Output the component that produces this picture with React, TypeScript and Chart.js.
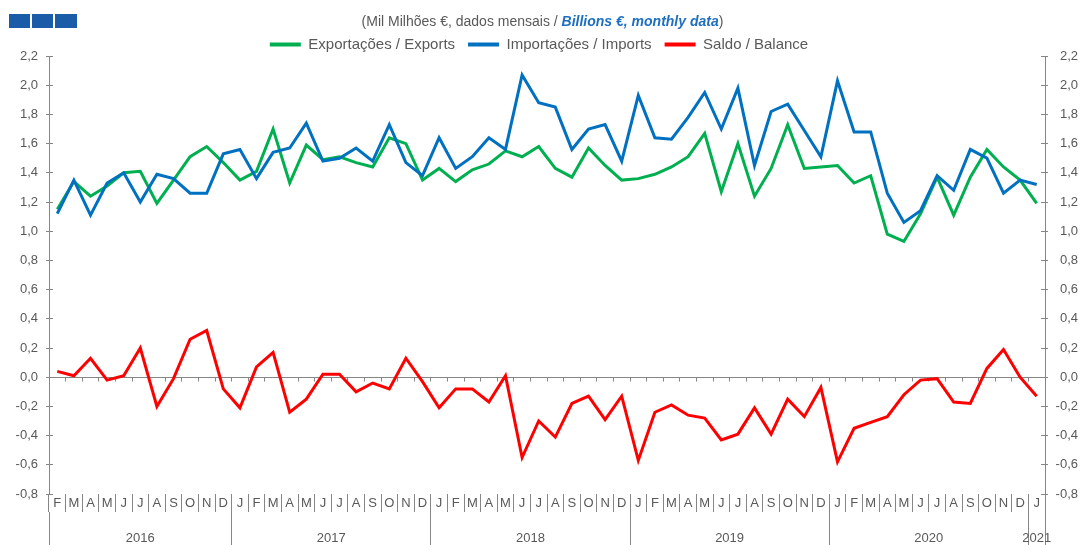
import React, { useEffect, useRef } from 'react';
import { Chart, registerables } from 'chart.js';

Chart.register(...registerables);

// ---------- data ----------
const YEARS = ['2016', '2017', '2018', '2019', '2020', '2021'];
const MONTHS_BY_YEAR: string[][] = [
  ['F', 'M', 'A', 'M', 'J', 'J', 'A', 'S', 'O', 'N', 'D'],
  ['J', 'F', 'M', 'A', 'M', 'J', 'J', 'A', 'S', 'O', 'N', 'D'],
  ['J', 'F', 'M', 'A', 'M', 'J', 'J', 'A', 'S', 'O', 'N', 'D'],
  ['J', 'F', 'M', 'A', 'M', 'J', 'J', 'A', 'S', 'O', 'N', 'D'],
  ['J', 'F', 'M', 'A', 'M', 'J', 'J', 'A', 'S', 'O', 'N', 'D'],
  ['J'],
];

const EXPORTS = [
  1.15, 1.34, 1.24, 1.31, 1.40, 1.41, 1.19, 1.35, 1.51, 1.58,
  1.47, 1.35, 1.41, 1.70, 1.33, 1.59, 1.49, 1.51, 1.47, 1.44,
  1.64, 1.60, 1.35, 1.43, 1.34, 1.42, 1.46, 1.55, 1.51, 1.58,
  1.43, 1.37, 1.57, 1.45, 1.35, 1.36, 1.39, 1.44, 1.51, 1.67,
  1.27, 1.60, 1.24, 1.43, 1.73, 1.43, 1.44, 1.45, 1.33, 1.38,
  0.98, 0.93, 1.12, 1.37, 1.11, 1.37, 1.56, 1.44, 1.35, 1.19,
];

const IMPORTS = [
  1.12, 1.35, 1.11, 1.33, 1.40, 1.20, 1.39, 1.36, 1.26, 1.26,
  1.53, 1.56, 1.36, 1.54, 1.57, 1.74, 1.48, 1.50, 1.57, 1.48,
  1.73, 1.47, 1.38, 1.64, 1.43, 1.51, 1.64, 1.56, 2.07, 1.88,
  1.85, 1.56, 1.70, 1.73, 1.48, 1.93, 1.64, 1.63, 1.78, 1.95,
  1.70, 1.98, 1.45, 1.82, 1.87, 1.69, 1.51, 2.03, 1.68, 1.68,
  1.26, 1.06, 1.14, 1.38, 1.28, 1.56, 1.50, 1.26, 1.35, 1.32,
];

const BALANCE = [
  0.04, 0.01, 0.13, -0.02, 0.01, 0.20, -0.20, -0.01, 0.26, 0.32,
  -0.08, -0.21, 0.07, 0.17, -0.24, -0.15, 0.02, 0.02, -0.10, -0.04,
  -0.08, 0.13, -0.03, -0.21, -0.08, -0.08, -0.17, 0.01, -0.55, -0.30,
  -0.41, -0.18, -0.13, -0.29, -0.13, -0.57, -0.24, -0.19, -0.26, -0.28,
  -0.43, -0.39, -0.21, -0.39, -0.15, -0.27, -0.07, -0.58, -0.35, -0.31,
  -0.27, -0.12, -0.02, -0.01, -0.17, -0.18, 0.06, 0.19, 0.00, -0.13,
];

const SERIES_LABELS = ['Exportações / Exports', 'Importações / Imports', 'Saldo / Balance'];

const Y_MIN = -0.8;
const Y_MAX = 2.2;
const Y_STEP = 0.2;

// ---------- derived (categories / year grouping) ----------
const MONTH_LABELS = MONTHS_BY_YEAR.flat();
const CATEGORIES = MONTHS_BY_YEAR.flatMap((ms, yi) => ms.map((m, mi) => `${m}-${mi}-${YEARS[yi]}`));

type YearTick = { value: number; label: string; boundary: boolean };
const YEAR_TICKS: YearTick[] = (() => {
  const out: YearTick[] = [];
  let start = -0.5;
  MONTHS_BY_YEAR.forEach((ms, yi) => {
    out.push({ value: start, label: '', boundary: true });
    out.push({ value: start + ms.length / 2, label: YEARS[yi], boundary: false });
    start += ms.length;
  });
  out.push({ value: start, label: '', boundary: true });
  return out;
})();

// ---------- styles ----------
const GREEN = '#00b050';
const BLUE = '#0070c0';
const RED = '#ff0000';
const AXIS = '#868686';
const TEXT = '#595959';
const TITLE_BLUE = '#1f6fc0';
const LOGO = '#1b5ca8';
const FONT = "'Liberation Sans', Arial, Helvetica, sans-serif";

const fmtY = (v: number | string) => {
  const n = Number(v);
  if (Math.abs(n) < 1e-9) return '0,0';
  return n.toFixed(1).replace('.', ',');
};

const align = (p: number) => Math.round(p - 0.5) + 0.5;

const axisDecor = {
  id: 'axisDecor',
  beforeDatasetsDraw(chart: any) {
    const { ctx, chartArea, scales } = chart;
    const x = scales.x;
    const y = scales.y;
    const y0 = align(y.getPixelForValue(0));
    ctx.save();
    ctx.strokeStyle = AXIS;
    ctx.lineWidth = 1;
    ctx.beginPath();
    for (let i = 0; i <= CATEGORIES.length; i++) {
      const px = align(x.getPixelForValue(i - 0.5));
      ctx.moveTo(px, y0);
      ctx.lineTo(px, y0 + 4);
    }
    for (const t of y.ticks) {
      const py = align(y.getPixelForValue(t.value));
      ctx.moveTo(chartArea.left, py);
      ctx.lineTo(chartArea.left + 4, py);
      ctx.moveTo(chartArea.right - 4, py);
      ctx.lineTo(chartArea.right, py);
    }
    ctx.stroke();
    ctx.restore();
  },
};

export default function App() {
  const canvasRef = useRef<HTMLCanvasElement | null>(null);

  useEffect(() => {
    document.body.style.margin = '0';
    document.body.style.overflow = 'hidden';
    const canvas = canvasRef.current;
    if (!canvas) return;
    Chart.defaults.font.family = FONT;
    Chart.defaults.color = TEXT;

    const yTicks = {
      stepSize: Y_STEP,
      callback: (v: any) => fmtY(v),
      font: { size: 13 },
      color: TEXT,
      padding: 8,
    };

    const chart = new Chart(canvas, {
      type: 'line',
      data: {
        labels: CATEGORIES,
        datasets: [
          { label: SERIES_LABELS[0], data: EXPORTS, borderColor: GREEN, backgroundColor: GREEN, order: 1 },
          { label: SERIES_LABELS[1], data: IMPORTS, borderColor: BLUE, backgroundColor: BLUE, order: 0 },
          { label: SERIES_LABELS[2], data: BALANCE, borderColor: RED, backgroundColor: RED, order: 2 },
        ].map((d) => ({
          ...d,
          borderWidth: 3,
          pointRadius: 0,
          pointHoverRadius: 0,
          tension: 0,
          fill: false,
          xAxisID: 'x',
          yAxisID: 'y',
        })),
      },
      options: {
        responsive: false,
        animation: false,
        events: [],
        layout: { padding: { top: 24, left: 0, right: 7, bottom: 0 } },
        plugins: {
          tooltip: { enabled: false },
          title: { display: false },
          legend: {
            display: true,
            position: 'top',
            maxHeight: 32,
            labels: {
              boxWidth: 31,
              boxHeight: 4,
              padding: 13,
              color: TEXT,
              font: { size: 15 },
              generateLabels: (ch: any) =>
                ch.data.datasets.map((ds: any, i: number) => ({
                  text: ds.label,
                  fillStyle: ds.borderColor,
                  strokeStyle: ds.borderColor,
                  lineWidth: 0,
                  hidden: false,
                  datasetIndex: i,
                  fontColor: TEXT,
                })),
            },
          },
        },
        scales: {
          x: {
            type: 'category',
            position: 'bottom',
            offset: true,
            weight: 0,
            grid: { offset: true, drawOnChartArea: false, drawTicks: true, tickLength: 18, color: AXIS, lineWidth: 1 },
            border: { display: false },
            ticks: {
              autoSkip: false,
              maxRotation: 0,
              minRotation: 0,
              padding: -16,
              font: { size: 13 },
              color: TEXT,
              callback: (_v: any, i: number) => MONTH_LABELS[i],
            },
            afterFit: (s: any) => {
              s.height = 18;
            },
          },
          x2: {
            type: 'linear',
            position: 'bottom',
            weight: 1,
            bounds: 'data',
            min: YEAR_TICKS[0].value,
            max: YEAR_TICKS[YEAR_TICKS.length - 1].value,
            grid: {
              drawOnChartArea: false,
              drawTicks: true,
              tickLength: 33,
              lineWidth: 1,
              color: (c: any) => {
                const t = YEAR_TICKS[c.index];
                return t && t.boundary ? AXIS : 'rgba(0,0,0,0)';
              },
            },
            border: { display: false },
            ticks: {
              autoSkip: false,
              maxRotation: 0,
              minRotation: 0,
              padding: -14,
              font: { size: 13 },
              color: TEXT,
              callback: (_v: any, i: number) => (YEAR_TICKS[i] ? YEAR_TICKS[i].label : ''),
            },
            afterBuildTicks: (s: any) => {
              s.ticks = YEAR_TICKS.map((t) => ({ value: t.value }));
            },
            afterFit: (s: any) => {
              s.height = 33;
            },
          },
          y: {
            type: 'linear',
            position: 'left',
            min: Y_MIN,
            max: Y_MAX,
            ticks: yTicks,
            grid: {
              drawOnChartArea: true,
              drawTicks: true,
              tickLength: 3,
              tickColor: AXIS,
              lineWidth: 1,
              color: (c: any) => (c.tick && Math.abs(c.tick.value) < 1e-9 ? AXIS : 'rgba(0,0,0,0)'),
            },
            border: { display: true, color: AXIS, width: 1 },
            afterFit: (s: any) => {
              s.width = 49;
            },
          },
          y2: {
            type: 'linear',
            position: 'right',
            min: Y_MIN,
            max: Y_MAX,
            ticks: { ...yTicks, padding: 9, crossAlign: 'far' },
            grid: { drawOnChartArea: false, drawTicks: true, tickLength: 3, color: AXIS, lineWidth: 1 },
            border: { display: true, color: AXIS, width: 1 },
            afterFit: (s: any) => {
              s.width = 33;
            },
          },
        },
      } as any,
      plugins: [axisDecor],
    });

    return () => {
      chart.destroy();
    };
  }, []);

  const sq = (left: number, width: number) => (
    <div style={{ position: 'absolute', left, top: 14, width, height: 14, background: LOGO }} />
  );

  return (
    <div style={{ position: 'relative', width: 1085, height: 545, background: '#fff', overflow: 'hidden' }}>
      <canvas ref={canvasRef} width={1085} height={545} style={{ display: 'block' }} />
      {sq(9, 21)}
      {sq(32, 21)}
      {sq(55, 22)}
      <div
        style={{
          position: 'absolute',
          left: 0,
          top: 12,
          width: 1085,
          textAlign: 'center',
          font: `14px ${FONT}`,
          lineHeight: '18px',
          color: TEXT,
          whiteSpace: 'nowrap',
        }}
      >
        (Mil Milhões €, dados mensais /{' '}
        <span style={{ color: TITLE_BLUE, fontWeight: 'bold', fontStyle: 'italic' }}>Billions €, monthly data</span>)
      </div>
    </div>
  );
}
